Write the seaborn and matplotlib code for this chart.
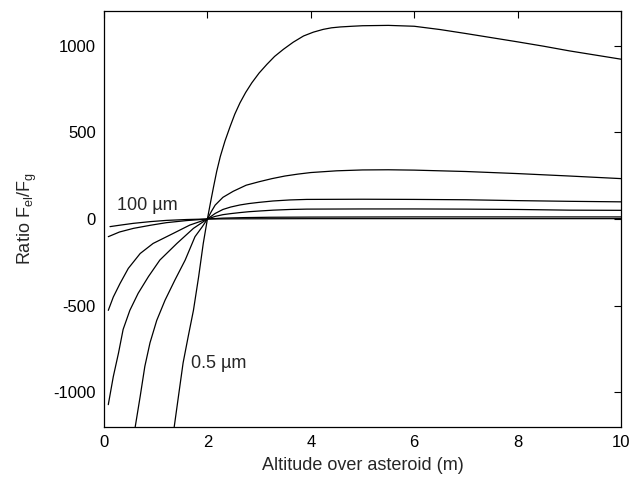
import numpy as np
import pandas as pd
import matplotlib
matplotlib.use("Agg")
import matplotlib.pyplot as plt
import seaborn as sns

# ---- data (altitude in m, ratio Fel/Fg) ----
x_05 = [1.355, 1.44, 1.53, 1.63, 1.73, 1.83, 1.92, 2.0, 2.06, 2.12, 2.18, 2.25, 2.34, 2.44,
        2.53, 2.63, 2.74, 2.86, 3.0, 3.15, 3.3, 3.47, 3.66, 3.86, 4.05, 4.24, 4.4, 4.57,
        4.8, 5.0, 5.5, 6.0, 6.5, 7.0, 7.5, 8.0, 8.5, 9.0, 9.5, 10.0]
y_05 = [-1206, -1023, -830, -676, -527, -334, -141, 0, 95, 187, 275, 361, 450, 534,
        605, 670, 730, 786, 842, 892, 938, 979, 1020, 1056, 1078, 1094, 1103, 1108,
        1112, 1115, 1117, 1112, 1093, 1070, 1046, 1022, 997, 970, 946, 922]

x_1 = [0.60, 0.70, 0.79, 0.89, 1.02, 1.18, 1.37, 1.57, 1.76, 1.9, 2.0, 2.08, 2.15, 2.3,
       2.5, 2.75, 3.0, 3.25, 3.5, 3.75, 4.0, 4.5, 5.0, 5.5, 6.0, 7.0, 8.0, 9.0, 10.0]
y_1 = [-1206, -1023, -850, -714, -585, -469, -353, -237, -102, -45, 0, 45, 80, 125,
       160, 195, 215, 233, 248, 259, 268, 278, 283, 284, 282, 274, 262, 248, 233]

x_c3 = [0.083, 0.18, 0.28, 0.37, 0.50, 0.66, 0.86, 1.08, 1.41, 1.73, 2.0, 2.15, 2.3, 2.45,
        2.63, 2.8, 3.0, 3.27, 3.6, 3.92, 5.0, 6.0, 7.0, 8.0, 9.0, 10.0]
y_c3 = [-1071, -909, -774, -637, -527, -429, -332, -237, -141, -54, 0, 32, 55, 69,
        81, 89, 96, 104, 110, 113, 114, 113, 111, 106, 102, 99]

x_c4 = [0.083, 0.18, 0.31, 0.47, 0.70, 0.95, 1.34, 1.66, 2.0, 2.15, 2.3, 2.45, 2.63, 2.8,
        3.0, 3.27, 3.6, 3.92, 5.0, 6.0, 7.0, 8.0, 9.0, 10.0]
y_c4 = [-527, -450, -372, -285, -199, -141, -83, -35, 0, 15, 25, 31, 37, 42,
        46, 51, 55, 57, 58, 58, 57, 55, 51, 50]

x_c5 = [0.083, 0.3, 0.57, 0.9, 1.21, 1.6, 2.0, 2.3, 2.7, 3.2, 4.0, 6.0, 8.0, 10.0]
y_c5 = [-102, -75, -54, -36, -21, -9, 0, 5, 8, 10, 11, 12, 12, 12]

x_100 = [0.116, 0.3, 0.57, 0.9, 1.21, 1.6, 2.0, 2.5, 4.0, 6.0, 8.0, 10.0]
y_100 = [-44, -36, -25, -15, -8, -3, 0, 1, 2, 2, 2, 2]

curves = [("0.5", x_05, y_05), ("1", x_1, y_1), ("c3", x_c3, y_c3),
          ("c4", x_c4, y_c4), ("c5", x_c5, y_c5), ("100", x_100, y_100)]

x_ticks = [0, 2, 4, 6, 8, 10]
y_ticks = [-1000, -500, 0, 500, 1000]

frames = []
for name, xs, ys in curves:
    frames.append(pd.DataFrame({"alt": xs, "ratio": ys, "size": name}))
df = pd.concat(frames, ignore_index=True)

sns.set_style("white")
plt.rcParams["font.family"] = ["Liberation Sans", "DejaVu Sans"]
plt.rcParams["mathtext.fontset"] = "custom"
plt.rcParams["mathtext.rm"] = "Liberation Sans"
plt.rcParams["mathtext.it"] = "Liberation Sans:italic"
plt.rcParams["axes.unicode_minus"] = False

fig = plt.figure(figsize=(6.32, 4.78), dpi=100)
ax = fig.add_axes([104 / 632, 1 - 427 / 478, (621 - 104) / 632, (427 - 11) / 478])

palette = {name: "black" for name, _, _ in curves}
sns.lineplot(data=df, x="alt", y="ratio", hue="size", palette=palette,
             estimator=None, sort=False, units="size", legend=False,
             linewidth=0.9, ax=ax)

ax.set_xlim(0, 10)
ax.set_ylim(-1200, 1200)
ax.set_xticks(x_ticks)
ax.set_yticks(y_ticks)
ax.tick_params(direction="in", length=5, width=0.8, top=True, right=True,
               labelsize=12, colors="black", pad=6)
for s in ax.spines.values():
    s.set_visible(True)
    s.set_color("black")
    s.set_linewidth(0.9)

ax.set_xlabel("Altitude over asteroid (m)", fontsize=13, labelpad=5)
ax.set_ylabel(r"Ratio F$_{\mathrm{el}}$/F$_{\mathrm{g}}$", fontsize=13, labelpad=10)

ax.text(0.25, 75, "100 µm", fontsize=13, va="center", ha="left")
ax.text(1.68, -834, "0.5 µm", fontsize=13, va="center", ha="left")

fig.savefig("out.png", dpi=100, facecolor="white")
